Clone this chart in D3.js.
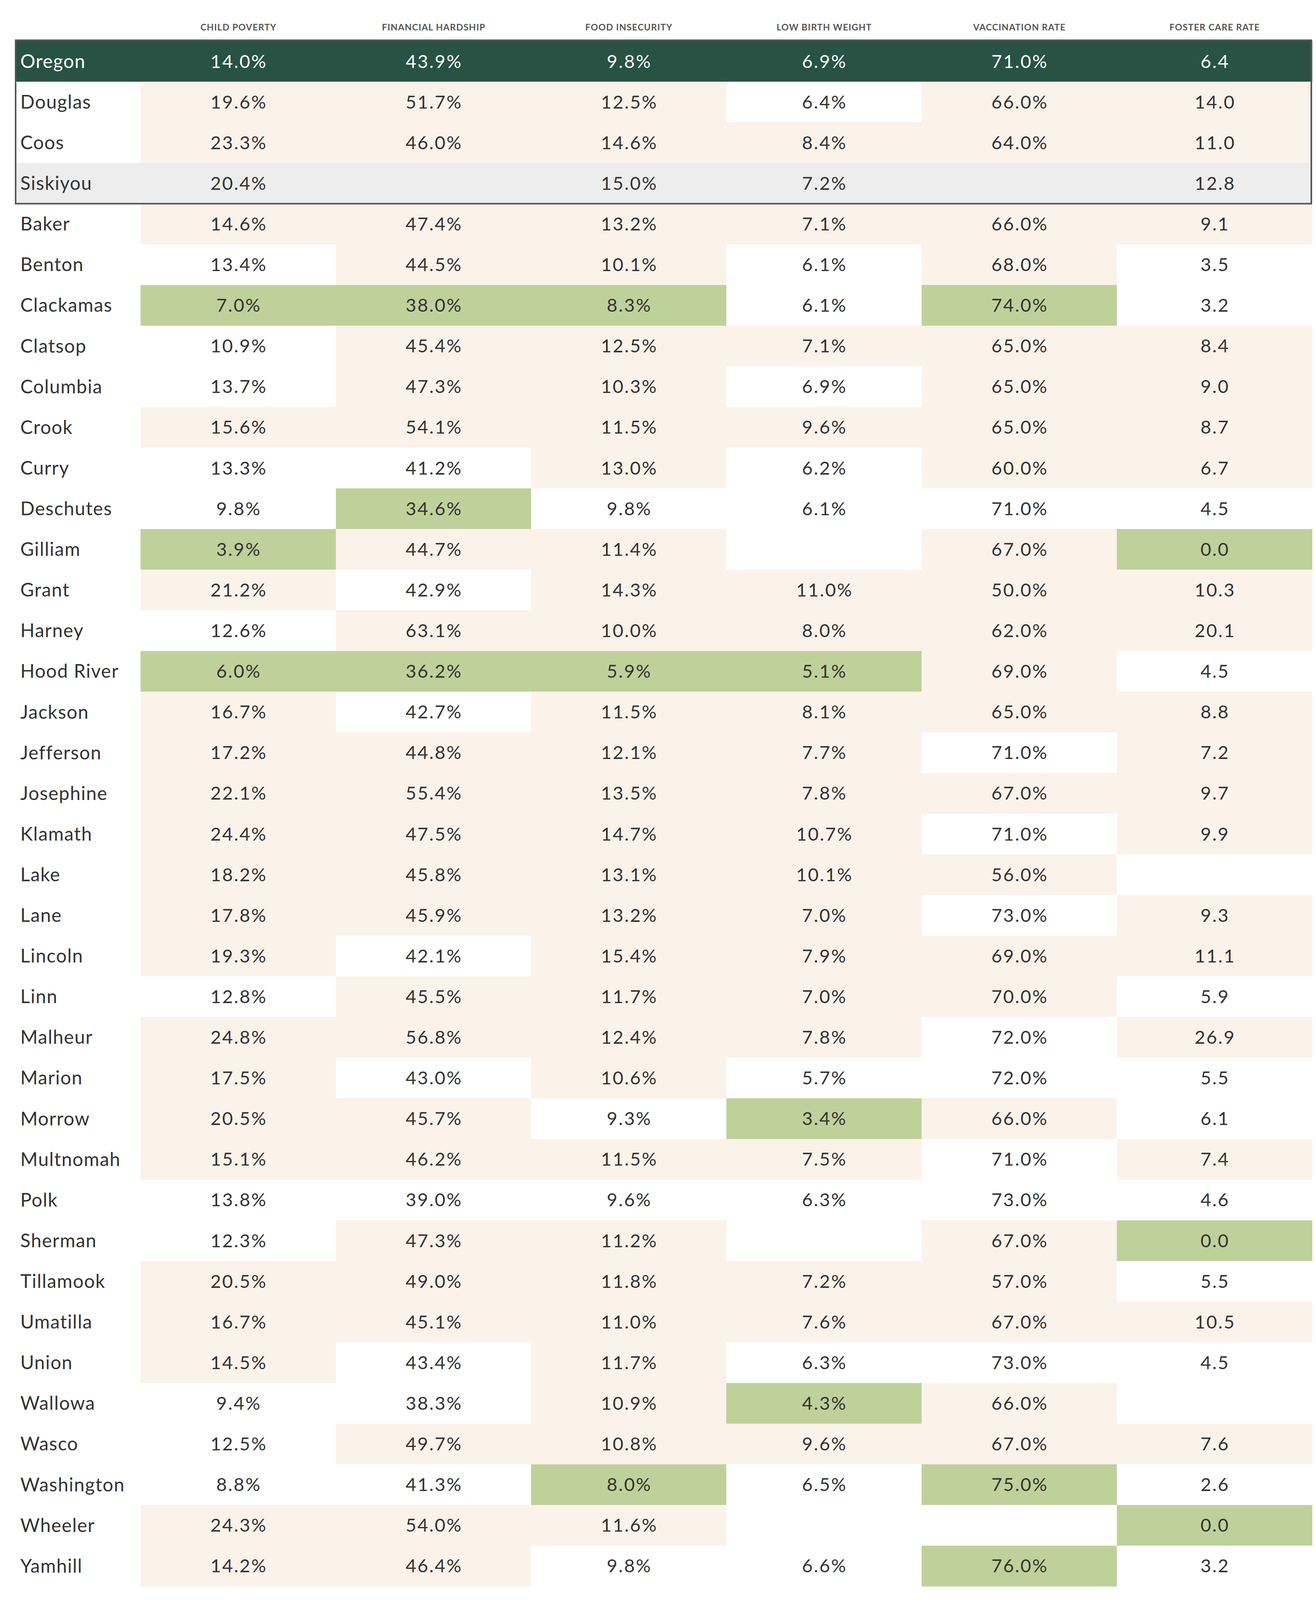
<!DOCTYPE html>
<html>
<head>
<meta charset="utf-8">
<script src="https://cdn.jsdelivr.net/npm/d3@7"></script>
<style>
  body { margin: 0; background: #fff; }
  text { font-family: Lato, "Open Sans", sans-serif; }
</style>
</head>
<body>
<svg id="chart"></svg>
<script>
"use strict";

// column headers, left to right
const columns = ["CHILD POVERTY", "FINANCIAL HARDSHIP", "FOOD INSECURITY",
  "LOW BIRTH WEIGHT", "VACCINATION RATE", "FOSTER CARE RATE"];
// is a bigger number the better one ?
const higherIsBetter = [false, false, false, false, true, false];
const showPercent = [true, true, true, true, true, false];

const places = ["Oregon", "Douglas", "Coos", "Siskiyou", "Baker", "Benton", "Clackamas",
  "Clatsop", "Columbia", "Crook", "Curry", "Deschutes", "Gilliam", "Grant", "Harney",
  "Hood River", "Jackson", "Jefferson", "Josephine", "Klamath", "Lake", "Lane", "Lincoln",
  "Linn", "Malheur", "Marion", "Morrow", "Multnomah", "Polk", "Sherman", "Tillamook",
  "Umatilla", "Union", "Wallowa", "Wasco", "Washington", "Wheeler", "Yamhill"];

const childPoverty = [14.0, 19.6, 23.3, 20.4, 14.6, 13.4, 7.0, 10.9, 13.7, 15.6, 13.3, 9.8,
  3.9, 21.2, 12.6, 6.0, 16.7, 17.2, 22.1, 24.4, 18.2, 17.8, 19.3, 12.8, 24.8, 17.5, 20.5,
  15.1, 13.8, 12.3, 20.5, 16.7, 14.5, 9.4, 12.5, 8.8, 24.3, 14.2];
const financialHardship = [43.9, 51.7, 46.0, null, 47.4, 44.5, 38.0, 45.4, 47.3, 54.1, 41.2,
  34.6, 44.7, 42.9, 63.1, 36.2, 42.7, 44.8, 55.4, 47.5, 45.8, 45.9, 42.1, 45.5, 56.8, 43.0,
  45.7, 46.2, 39.0, 47.3, 49.0, 45.1, 43.4, 38.3, 49.7, 41.3, 54.0, 46.4];
const foodInsecurity = [9.8, 12.5, 14.6, 15.0, 13.2, 10.1, 8.3, 12.5, 10.3, 11.5, 13.0, 9.8,
  11.4, 14.3, 10.0, 5.9, 11.5, 12.1, 13.5, 14.7, 13.1, 13.2, 15.4, 11.7, 12.4, 10.6, 9.3,
  11.5, 9.6, 11.2, 11.8, 11.0, 11.7, 10.9, 10.8, 8.0, 11.6, 9.8];
const lowBirthWeight = [6.9, 6.4, 8.4, 7.2, 7.1, 6.1, 6.1, 7.1, 6.9, 9.6, 6.2, 6.1, null,
  11.0, 8.0, 5.1, 8.1, 7.7, 7.8, 10.7, 10.1, 7.0, 7.9, 7.0, 7.8, 5.7, 3.4, 7.5, 6.3, null,
  7.2, 7.6, 6.3, 4.3, 9.6, 6.5, null, 6.6];
const vaccinationRate = [71.0, 66.0, 64.0, null, 66.0, 68.0, 74.0, 65.0, 65.0, 65.0, 60.0,
  71.0, 67.0, 50.0, 62.0, 69.0, 65.0, 71.0, 67.0, 71.0, 56.0, 73.0, 69.0, 70.0, 72.0, 72.0,
  66.0, 71.0, 73.0, 67.0, 57.0, 67.0, 73.0, 66.0, 67.0, 75.0, null, 76.0];
const fosterCareRate = [6.4, 14.0, 11.0, 12.8, 9.1, 3.5, 3.2, 8.4, 9.0, 8.7, 6.7, 4.5, 0.0,
  10.3, 20.1, 4.5, 8.8, 7.2, 9.7, 9.9, null, 9.3, 11.1, 5.9, 26.9, 5.5, 6.1, 7.4, 4.6, 0.0,
  5.5, 10.5, 4.5, null, 7.6, 2.6, 0.0, 3.2];

const series = [childPoverty, financialHardship, foodInsecurity, lowBirthWeight,
  vaccinationRate, fosterCareRate];

const stateName = "Oregon";
const outOfState = ["Siskiyou"];   // grey row, not ranked
const boxed = ["Oregon", "Douglas", "Coos", "Siskiyou"];

const W = 3370, H = 4100;
const COLORS = { state: "#285244", worse: "#fbf2ea", best: "#bfd19a", grey: "#ededed", better: "#ffffff" };

const svg = d3.select("#chart").attr("width", W).attr("height", H);
svg.append("rect").attr("width", W).attr("height", H).attr("fill", "#fff");

const x = d3.scaleBand().domain(columns).range([360, 3360]);
const y = d3.scaleBand().domain(places).range([105, 4061]);

// top 3 counties of each column get the green, the rest compare to the state
const thresholds = series.map((s, c) => {
  let vals = s.filter((v, i) => v != null && places[i] !== stateName && !outOfState.includes(places[i]));
  vals.sort((a, b) => higherIsBetter[c] ? b - a : a - b);
  return vals[2];
});

function shade(c, i) {
  const place = places[i], v = series[c][i];
  if (place === stateName) return COLORS.state;
  if (outOfState.includes(place)) return COLORS.grey;
  if (v == null) return COLORS.better;
  const hb = higherIsBetter[c];
  if (hb ? v >= thresholds[c] : v <= thresholds[c]) return COLORS.best;
  const ref = series[c][places.indexOf(stateName)];
  return (hb ? v < ref : v > ref) ? COLORS.worse : COLORS.better;
}

// header
svg.append("g").selectAll("text")
  .data(columns)
  .enter().append("text")
  .attr("x", d => x(d) + x.bandwidth() / 2 + 0.6)
  .attr("y", 70)
  .attr("dy", "0.35em")
  .attr("text-anchor", "middle")
  .attr("font-size", 23)
  .attr("font-weight", 700)
  .attr("letter-spacing", 1.2)
  .attr("fill", "#555")
  .text(d => d);

// whole-row fills (state + out of state)
svg.append("g").selectAll("rect")
  .data(places.filter(p => p === stateName || outOfState.includes(p)))
  .enter().append("rect")
  .attr("x", 40)
  .attr("y", d => y(d))
  .attr("width", x.range()[1] - 40)
  .attr("height", y.bandwidth())
  .attr("fill", d => d === stateName ? COLORS.state : COLORS.grey);

let cells = [];
places.forEach((p, i) => columns.forEach((col, c) => {
  cells.push({ place: p, col: col, c: c, v: series[c][i], fill: shade(c, i) });
}));

svg.append("g").selectAll("rect")
  .data(cells)
  .enter().append("rect")
  .attr("x", d => x(d.col))
  .attr("y", d => y(d.place))
  .attr("width", x.bandwidth() + 0.5)
  .attr("height", y.bandwidth() + 0.5)
  .attr("fill", d => d.fill);

// box around the first rows
svg.append("rect")
  .attr("x", 40)
  .attr("y", 103)
  .attr("width", 3318)
  .attr("height", y(boxed[boxed.length - 1]) + y.bandwidth() - 103)
  .attr("fill", "none")
  .attr("stroke", "#555")
  .attr("stroke-width", 4);

// names
svg.append("g").selectAll("text")
  .data(places)
  .enter().append("text")
  .attr("x", 52)
  .attr("y", d => y(d) + y.bandwidth() / 2)
  .attr("dy", "0.35em")
  .attr("font-size", 48)
  .attr("letter-spacing", 1.5)
  .attr("fill", d => d === stateName ? "#fff" : "#333")
  .text(d => d);

// values
svg.append("g").selectAll("text")
  .data(cells.filter(d => d.v != null))
  .enter().append("text")
  .attr("x", d => x(d.col) + x.bandwidth() / 2 + 1.5)
  .attr("y", d => y(d.place) + y.bandwidth() / 2)
  .attr("dy", "0.35em")
  .attr("text-anchor", "middle")
  .attr("font-size", 47)
  .attr("letter-spacing", 3)
  .attr("fill", d => d.place === stateName ? "#fff" : "#333")
  .text(d => d.v.toFixed(1) + (showPercent[d.c] ? "%" : ""));
</script>
</body>
</html>
